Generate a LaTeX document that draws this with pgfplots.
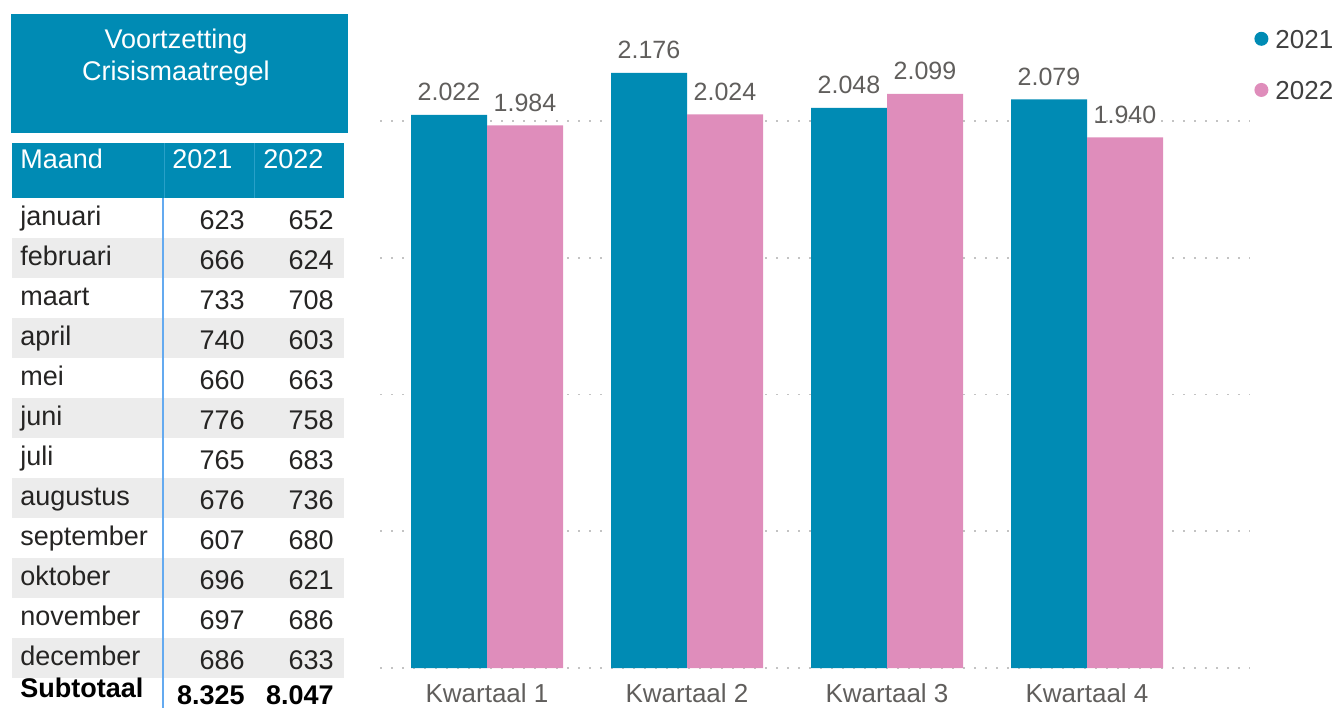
\documentclass[border=0pt]{standalone}
\usepackage{pgfplots}
\pgfplotsset{compat=1.18}
\usepackage{fontspec}
\setmainfont{Liberation Sans}
\definecolor{pbblue}{RGB}{0,139,180}
\definecolor{pbpink}{RGB}{223,141,187}
\definecolor{lblgray}{RGB}{96,94,92}
\definecolor{legtext}{RGB}{64,64,64}
\definecolor{tabtext}{RGB}{37,36,35}
\definecolor{band}{RGB}{236,236,236}
\definecolor{sepblue}{RGB}{100,170,240}
\definecolor{hdrsep}{RGB}{40,160,200}
\definecolor{gridc}{RGB}{195,195,195}
\newcommand\fs[1]{\fontsize{#1}{#1}\selectfont}
\begin{document}
\begin{tikzpicture}
\begin{scope}[x=0.5pt,y=-0.5pt]
\path[use as bounding box] (0,0) rectangle (1338,708);
% title box
\fill[pbblue] (11,14) rectangle (348,133);
\node[white,font=\fs{13.5pt},anchor=base,inner sep=0pt] at (176,48) {Voortzetting};
\node[white,font=\fs{13.5pt},anchor=base,inner sep=0pt] at (176,80) {Crisismaatregel};
% header row
\fill[pbblue] (12,143) rectangle (344,198);
\draw[hdrsep,line width=0.5pt] (164,143) -- (164,198) (254,143) -- (254,198);
\node[white,font=\fs{13.5pt},anchor=base west,inner sep=0pt] at (20,168) {Maand};
\node[white,font=\fs{13.5pt},anchor=base west,inner sep=0pt] at (172,168) {2021};
\node[white,font=\fs{13.5pt},anchor=base west,inner sep=0pt] at (263,168) {2022};
% bands
\foreach \i in {1,3,5,7,9,11} {
  \fill[band] (12,{198+40*\i}) rectangle (344,{238+40*\i});
}
% rows
\foreach \m/\a/\b [count=\i from 0] in {januari/623/652, februari/666/624, maart/733/708, april/740/603, mei/660/663, juni/776/758, juli/765/683, augustus/676/736, september/607/680, oktober/696/621, november/697/686, december/686/633} {
  \node[text=tabtext,font=\fs{13.5pt},anchor=base west,inner sep=0pt] at (20,{225.5+40*\i}) {\m};
  \node[text=tabtext,font=\fs{13.5pt},anchor=base east,inner sep=0pt] at (245,{229+40*\i}) {\a};
  \node[text=tabtext,font=\fs{13.5pt},anchor=base east,inner sep=0pt] at (334,{229+40*\i}) {\b};
}
\node[text=black,font=\fs{13.5pt}\bfseries,anchor=base west,inner sep=0pt] at (20,697) {Subtotaal};
\node[text=black,font=\fs{13.5pt}\bfseries,anchor=base east,inner sep=0pt] at (245,704) {8.325};
\node[text=black,font=\fs{13.5pt}\bfseries,anchor=base east,inner sep=0pt] at (334,704) {8.047};
\draw[sepblue,line width=0.9pt] (163,198) -- (163,708);
\end{scope}
\begin{axis}[
  at={(190pt,-334pt)}, anchor=south west,
  scale only axis, width=435pt, height=328.2pt,
  xmin=-0.535, xmax=3.815, ymin=0, ymax=2400,
  ybar=0pt, bar width=38pt,
  axis line style={draw=none}, major tick length=0pt,
  xtick={0,1,2,3}, xticklabels={Kwartaal 1,Kwartaal 2,Kwartaal 3,Kwartaal 4},
  ytick={0,500,1000,1500,2000}, yticklabels={},
  ymajorgrids, grid style={gridc, line width=0.9pt, dash pattern=on 0.9pt off 4.6pt},
  xticklabel style={font=\fs{13pt}, text=lblgray, anchor=base, inner sep=0pt, yshift=-17pt},
  point meta=explicit symbolic,
  nodes near coords,
  every node near coord/.append style={font=\fs{12.5pt}, text=lblgray, anchor=base, inner sep=0pt, yshift=7pt},
  legend cell align=left,
  legend style={at={(1,1)}, anchor=north west, draw=none, fill=none, inner sep=0pt,
    font=\fs{13pt}, text=legtext, row sep=15pt, column sep=3.5pt,
    nodes={inner sep=0pt}, xshift=2pt, yshift=-9pt},
]
\addplot[fill=pbblue, draw=none, legend image code/.code={\fill[pbblue] (3.5pt,0.9pt) circle (3.5pt);}]
  coordinates {(0,2022) [2.022] (1,2176) [2.176] (2,2048) [2.048] (3,2079) [2.079]};
\addplot[fill=pbpink, draw=none, legend image code/.code={\fill[pbpink] (3.5pt,0.9pt) circle (3.5pt);}]
  coordinates {(0,1984) [1.984] (1,2024) [2.024] (2,2099) [2.099] (3,1940) [1.940]};
\legend{2021,2022}
\end{axis}
\end{tikzpicture}%
\end{document}
